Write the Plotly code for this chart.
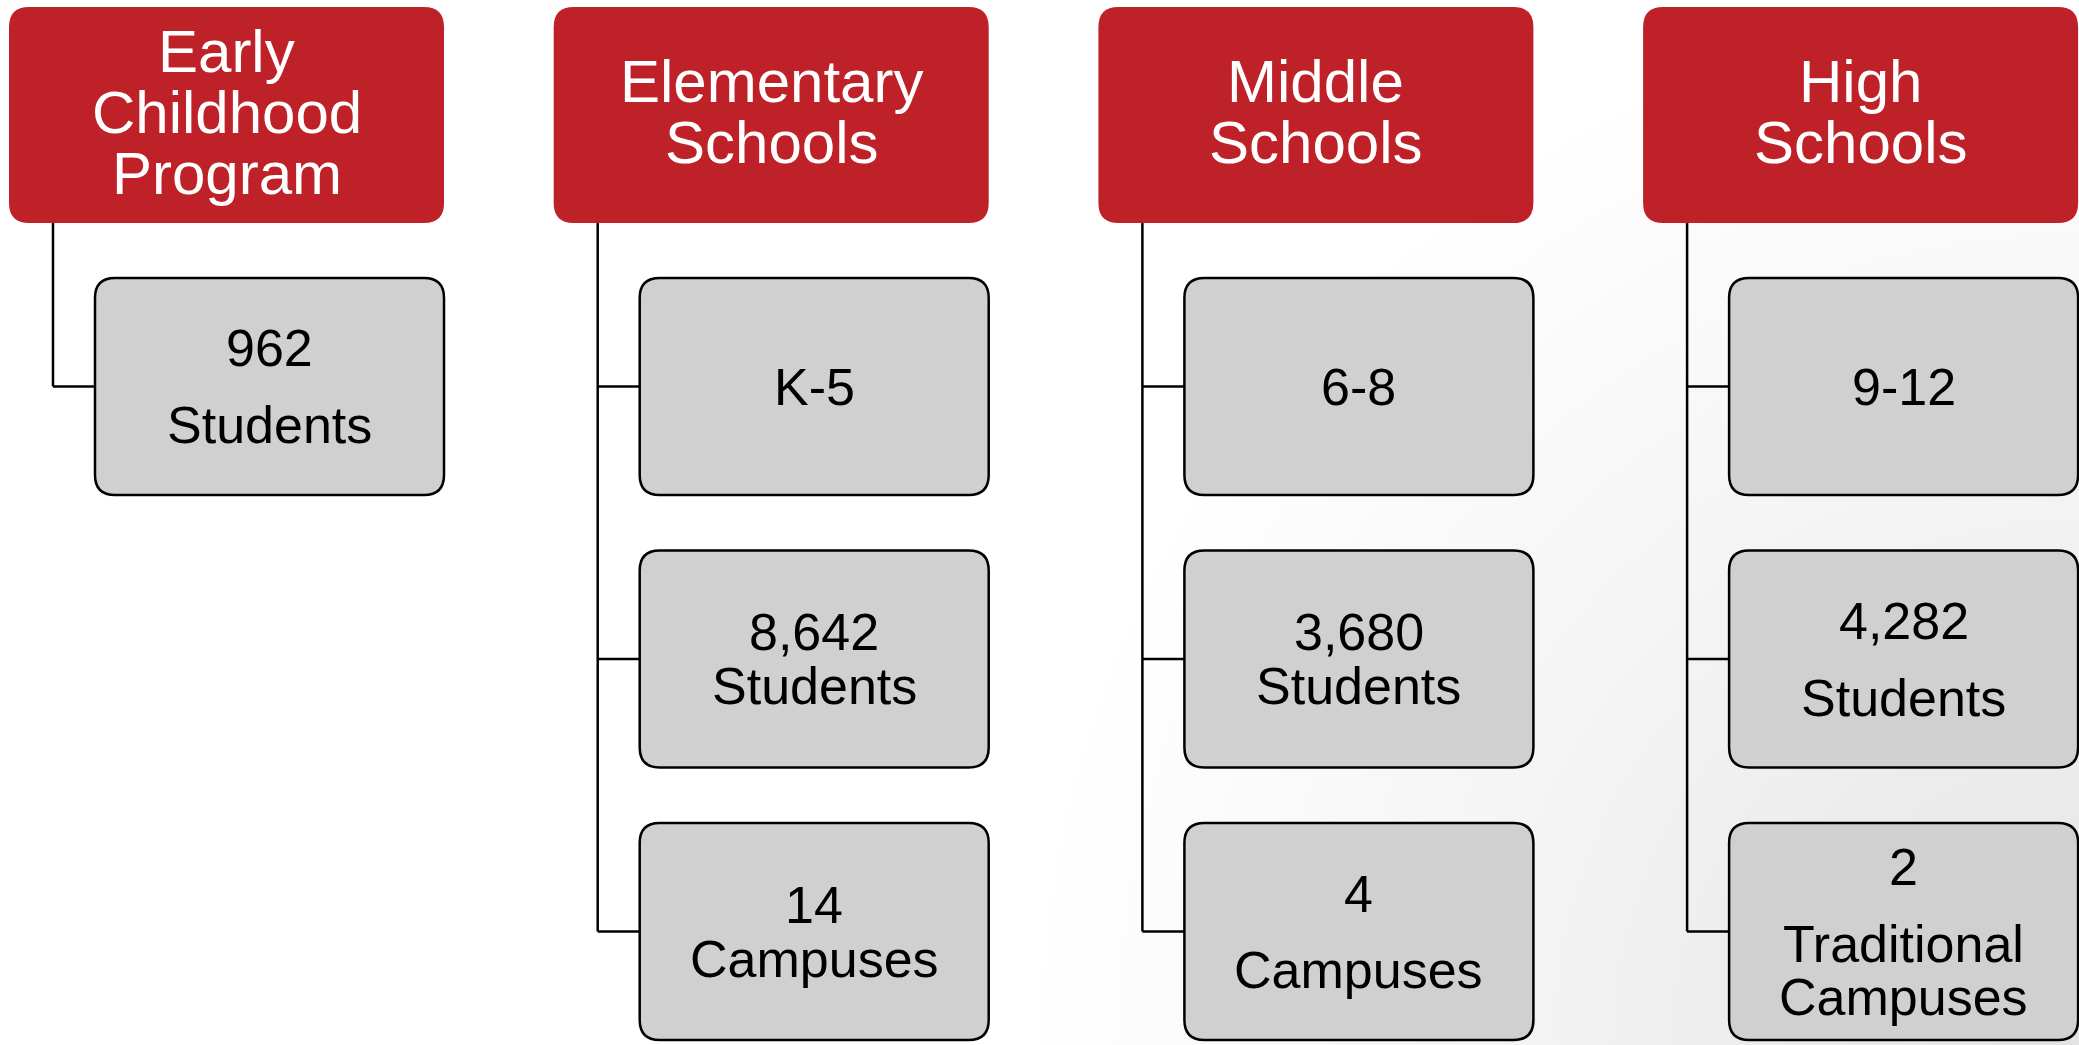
import base64
import plotly.graph_objects as go

W, H = 2079, 1045

# ---------------- data ----------------
header_lines = [
    ["Early", "Childhood", "Program"],
    ["Elementary", "Schools"],
    ["Middle", "Schools"],
    ["High", "Schools"],
]
child_lines = [
    [["962", "Students"]],
    [["K-5"], ["8,642", "Students"], ["14", "Campuses"]],
    [["6-8"], ["3,680", "Students"], ["4", "Campuses"]],
    [["9-12"], ["4,282", "Students"], ["2", "Traditional", "Campuses"]],
]

# ---------------- style / layout ----------------
header_gap = 61
header_text_shift = -3
child_gaps = [
    [[77]],
    [[], [54], [54]],
    [[], [54], [76]],
    [[], [77], [77, 53]],
]
RED = "#BE2128"
GREY = "#D0D0D0"
FONT = "Liberation Sans, Arial, sans-serif"
HEADER_SIZE = 60
CHILD_SIZE = 52

col_left0 = 9
col_pitch = 544.7
header_w, header_top, header_h = 435, 7, 216
child_dx, child_w, child_h = 86, 349, 217
child_top0, child_pitch = 278, 272.5
conn_dx = 44
radius = 20


def rrect(x0, y0, x1, y1, r):
    return (f"M {x0+r},{y0} L {x1-r},{y0} Q {x1},{y0} {x1},{y0+r} "
            f"L {x1},{y1-r} Q {x1},{y1} {x1-r},{y1} L {x0+r},{y1} "
            f"Q {x0},{y1} {x0},{y1-r} L {x0},{y0+r} Q {x0},{y0} {x0+r},{y0} Z")


def line_positions(center, gaps):
    pos = [0.0]
    for g in gaps:
        pos.append(pos[-1] + g)
    mid = (pos[0] + pos[-1]) / 2
    return [center + p - mid for p in pos]


shapes = []
annotations = []

for ci, hl in enumerate(header_lines):
    x0 = col_left0 + ci * col_pitch
    x1 = x0 + header_w
    y0, y1 = header_top, header_top + header_h
    cx = (x0 + x1) / 2
    lx = x0 + conn_dx
    kids = child_lines[ci]
    # connector vertical line
    last_mid = child_top0 + (len(kids) - 1) * child_pitch + child_h / 2
    shapes.append(dict(type="line", xref="x", yref="y", x0=lx, x1=lx, y0=y1, y1=last_mid,
                       line=dict(color="black", width=2.5)))
    # header box
    shapes.append(dict(type="path", xref="x", yref="y", path=rrect(x0, y0, x1, y1, radius),
                       fillcolor=RED, line=dict(width=0)))
    ys = line_positions((y0 + y1) / 2 + header_text_shift, [header_gap] * (len(hl) - 1))
    for txt, yy in zip(hl, ys):
        annotations.append(dict(x=cx, y=yy, xref="x", yref="y", text=txt, showarrow=False,
                                xanchor="center", yanchor="middle",
                                font=dict(family=FONT, size=HEADER_SIZE, color="white")))
    # children
    for ki, kl in enumerate(kids):
        bx0 = x0 + child_dx
        bx1 = bx0 + child_w
        by0 = child_top0 + ki * child_pitch
        by1 = by0 + child_h
        bmid = (by0 + by1) / 2
        shapes.append(dict(type="line", xref="x", yref="y", x0=lx, x1=bx0, y0=bmid, y1=bmid,
                           line=dict(color="black", width=2.5)))
        shapes.append(dict(type="path", xref="x", yref="y", path=rrect(bx0, by0, bx1, by1, radius),
                           fillcolor=GREY, line=dict(color="black", width=2.5)))
        ys = line_positions(bmid, child_gaps[ci][ki])
        for txt, yy in zip(kl, ys):
            annotations.append(dict(x=(bx0 + bx1) / 2, y=yy, xref="x", yref="y", text=txt,
                                    showarrow=False, xanchor="center", yanchor="middle",
                                    font=dict(family=FONT, size=CHILD_SIZE, color="black")))

# subtle background gradient (light grey toward bottom right)
svg = f"""<svg xmlns='http://www.w3.org/2000/svg' width='{W}' height='{H}' viewBox='0 0 {W} {H}' preserveAspectRatio='none'>
<defs><radialGradient id='g' cx='{W}' cy='{H}' r='1050' gradientUnits='userSpaceOnUse'>
<stop offset='0' stop-color='#e3e3e3'/><stop offset='0.55' stop-color='#f4f4f4'/><stop offset='1' stop-color='#ffffff'/>
</radialGradient></defs><rect width='{W}' height='{H}' fill='url(#g)'/></svg>"""
src = "data:image/svg+xml;base64," + base64.b64encode(svg.encode()).decode()

fig = go.Figure()
fig.add_trace(go.Scatter(x=[0], y=[0], mode="markers", marker=dict(opacity=0),
                         hoverinfo="skip", showlegend=False))
fig.update_layout(
    width=W, height=H, autosize=False,
    margin=dict(l=0, r=0, t=0, b=0),
    paper_bgcolor="white", plot_bgcolor="rgba(0,0,0,0)",
    xaxis=dict(range=[0, W], visible=False, fixedrange=True),
    yaxis=dict(range=[H, 0], visible=False, fixedrange=True),
    shapes=shapes, annotations=annotations, showlegend=False,
    images=[dict(source=src, xref="paper", yref="paper", x=0, y=1, sizex=1, sizey=1,
                 xanchor="left", yanchor="top", sizing="stretch", layer="below")],
)
fig.write_html("out.html", config={"displayModeBar": False},
               post_script="document.body.style.margin='0';document.body.style.overflow='hidden';")
